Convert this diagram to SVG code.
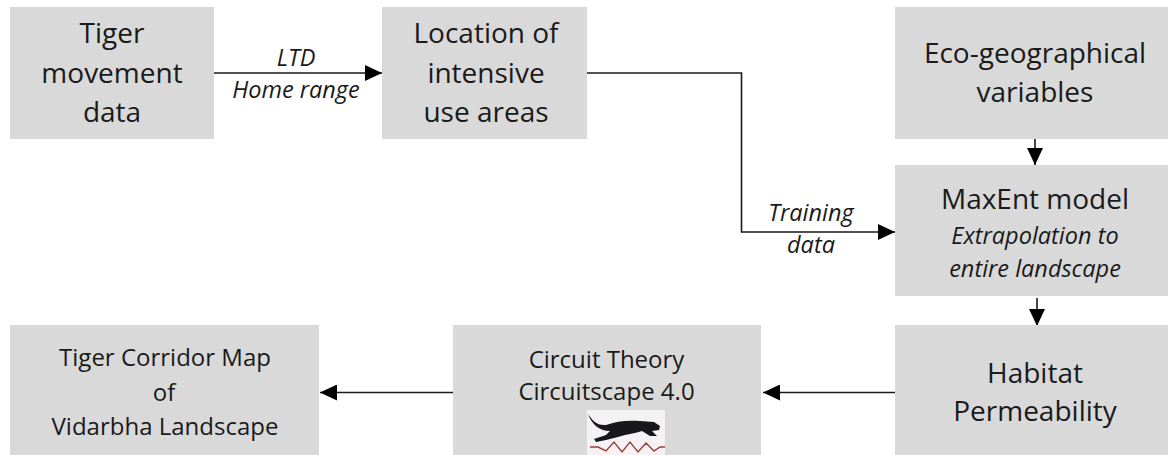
<svg xmlns="http://www.w3.org/2000/svg" width="1168" height="455" viewBox="0 0 1168 455">
<style>
.box{fill:#d9d9d9}
text{font-family:"Open Sans","Noto Sans","Liberation Sans",sans-serif;fill:#1a1a1a;text-anchor:middle}
.l{font-size:28px}
.m{font-size:24px}
.i{font-size:23.500px;font-style:italic}
.c{fill:none;stroke:#1a1a1a;stroke-width:1.600}
</style>
<defs><marker id="a" markerUnits="userSpaceOnUse" markerWidth="17" markerHeight="16" refX="17" refY="8" orient="auto"><path d="M0 0L17 8L0 16Z" fill="#000"/></marker></defs>
<rect width="1168" height="455" fill="#fff"/>
<g id="connectors">
<path class="c" marker-end="url(#a)" d="M214 73H382"/>
<path class="c" marker-end="url(#a)" d="M587 73H741.500V232H895"/>
<path class="c" marker-end="url(#a)" d="M1035 139V165"/>
<path class="c" marker-end="url(#a)" d="M1037 298V326"/>
<path class="c" marker-end="url(#a)" d="M895 392.500H763"/>
<path class="c" marker-end="url(#a)" d="M453 392.500H320"/>
</g>
<g id="edge-label-ltd"><text class="i" x="296" y="66">LTD</text><text class="i" x="296" y="98">Home range</text></g>
<g id="edge-label-training"><text class="i" x="811" y="221">Training</text><text class="i" x="811" y="253">data</text></g>
<g id="tiger-movement"><rect class="box" x="10" y="7" width="204" height="132"/><text class="l" x="112" y="43">Tiger</text><text class="l" x="112" y="83">movement</text><text class="l" x="112" y="122">data</text></g>
<g id="intensive-use"><rect class="box" x="382" y="7" width="205" height="132"/><text class="l" x="486" y="43">Location of</text><text class="l" x="486" y="83">intensive</text><text class="l" x="486" y="122">use areas</text></g>
<g id="eco-geo"><rect class="box" x="895" y="7" width="273" height="132"/><text class="l" x="1035" y="63">Eco-geographical</text><text class="l" x="1035" y="102">variables</text></g>
<g id="maxent"><rect class="box" x="895" y="165" width="273" height="131"/><text class="l" x="1035" y="209">MaxEnt model</text><text class="i" x="1035" y="244">Extrapolation to</text><text class="i" x="1035" y="277">entire landscape</text></g>
<g id="habitat"><rect class="box" x="895" y="325" width="273" height="130"/><text class="l" x="1035" y="383">Habitat</text><text class="l" x="1035" y="421">Permeability</text></g>
<g id="circuit"><rect class="box" x="453" y="325" width="308" height="130"/><text class="m" x="606.500" y="368">Circuit Theory</text><text class="m" x="606.500" y="400">Circuitscape 4.0</text>
<rect x="587" y="410" width="78" height="45" fill="#f4f2f2"/>
<path d="M588 414C592 420 597 426 606 425C616 421 628 420 640 421L654 422L660 426L659 430L652 431L657 436L650 436L642 431C634 434 626 434 618 437L606 440L596 442L594 439L606 435L610 431C600 431 592 425 588 414Z" fill="#17171c"/>
<path d="M590 447H598L606 451L614 442L622 452L630 442L638 452L646 443L654 451L660 447H665" fill="none" stroke="#a03a40" stroke-width="1.400"/></g>
<g id="corridor"><rect class="box" x="10" y="325" width="309" height="130"/><text class="m" x="165" y="366">Tiger Corridor Map</text><text class="m" x="164" y="401">of</text><text class="m" x="165" y="435">Vidarbha Landscape</text></g>
</svg>
